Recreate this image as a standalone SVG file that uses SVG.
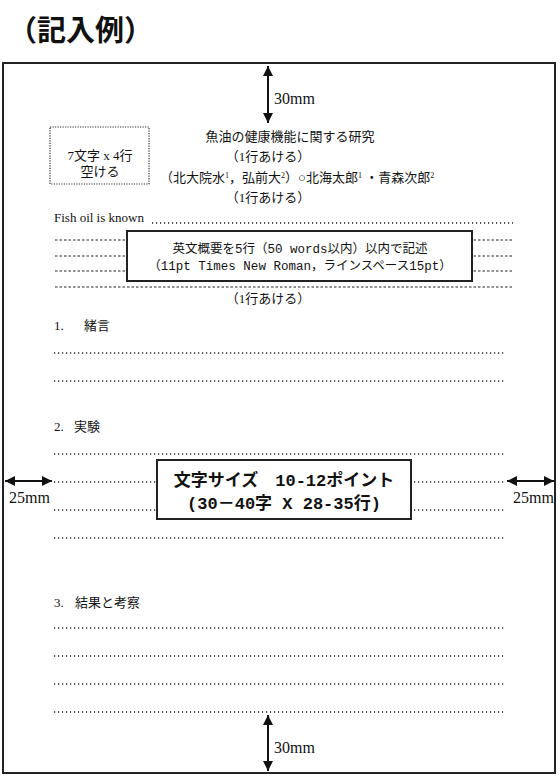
<svg xmlns="http://www.w3.org/2000/svg" width="560" height="780" viewBox="0 0 560 780">
<style>
.t{font-family:"Liberation Serif","Noto Sans CJK JP",serif;font-size:13px;fill:#111}
.n{font-family:"Liberation Serif","Noto Sans CJK JP",serif;font-size:16px;fill:#111}
.m{font-family:"Liberation Mono","Noto Sans CJK JP",monospace;font-size:12.5px;fill:#111}
.b{font-family:"Liberation Mono","Noto Sans CJK JP",monospace;font-size:17px;font-weight:bold;fill:#111}
.dot{stroke:#222;stroke-width:1.3;stroke-dasharray:1.2 2.8;fill:none}
.dash{stroke:#222;stroke-width:1;stroke-dasharray:2.5 2;fill:none}
.box{fill:#fff;stroke:#222;stroke-width:2}
.arr{stroke:#111;stroke-width:2;fill:none}
</style>
<defs>
<marker id="ah" viewBox="0 0 10 10" refX="10" refY="5" markerWidth="5" markerHeight="5" orient="auto-start-reverse"><path d="M0,0 L10,5 L0,10 z" fill="#111"/></marker>
</defs>
<rect width="560" height="780" fill="#fff"/>
<text x="8" y="41" font-family="'Noto Sans CJK JP',sans-serif" font-size="29" font-weight="bold" fill="#111">（記入例）</text>
<g id="frame"><rect x="3" y="63" width="552" height="710" fill="none" stroke="#222" stroke-width="2"/></g>

<g id="connectors">
<line class="arr" x1="268" y1="66" x2="268" y2="123" marker-start="url(#ah)" marker-end="url(#ah)"/>
<line class="arr" x1="268" y1="715" x2="268" y2="771" marker-start="url(#ah)" marker-end="url(#ah)"/>
<line class="arr" x1="5" y1="481" x2="52" y2="481" marker-start="url(#ah)" marker-end="url(#ah)"/>
<line class="arr" x1="507" y1="481" x2="554" y2="481" marker-start="url(#ah)" marker-end="url(#ah)"/>
</g>
<g id="labels">
<text class="n" x="274" y="104">30mm</text>
<text class="n" x="274" y="753">30mm</text>
<text class="n" x="9" y="503" font-size="14.5">25mm</text>
<text class="n" x="513" y="503" font-size="14.5">25mm</text>
</g>

<g id="space-box">
<rect x="50" y="127" width="99" height="57" fill="none" stroke="#333" stroke-width="1.2" stroke-dasharray="1.2 1.3"/>
<text class="t" x="100" y="160" text-anchor="middle">7文字 x 4行</text>
<text class="t" x="100" y="176" text-anchor="middle">空ける</text>
</g>

<g id="header">
<text class="t" x="290" y="141" text-anchor="middle">魚油の健康機能に関する研究</text>
<text class="t" x="268" y="161" text-anchor="middle">（1行あける）</text>
<text class="t" x="160" y="182">（北大院水<tspan font-size="8" dy="-4">1</tspan><tspan dy="4">，弘前大</tspan><tspan font-size="8" dy="-4">2</tspan><tspan dy="4">）○北海太郎</tspan><tspan font-size="8" dy="-4">1</tspan><tspan dy="4"> ・青森次郎</tspan><tspan font-size="8" dy="-4">2</tspan></text>
<text class="t" x="268" y="202" text-anchor="middle">（1行あける）</text>
</g>

<g id="abstract">
<text class="t" x="54" y="222" font-size="14">Fish oil is known</text>
<line class="dot" x1="152" y1="223" x2="513" y2="223"/>
<line class="dash" x1="55" y1="240" x2="513" y2="240"/>
<line class="dash" x1="55" y1="256" x2="513" y2="256"/>
<line class="dash" x1="55" y1="271" x2="513" y2="271"/>
<line class="dash" x1="55" y1="287" x2="513" y2="287"/>
<rect class="box" x="127" y="231" width="345" height="50"/>
<text class="m" x="300" y="253" text-anchor="middle">英文概要を5行（50 words以内）以内で記述</text>
<text class="m" x="300" y="270" text-anchor="middle">（11pt Times New Roman，ラインスペース15pt）</text>
<text class="t" x="268" y="303" text-anchor="middle">（1行あける）</text>
</g>

<g id="sec1">
<text class="t" x="54" y="330">1.</text>
<text class="t" x="84" y="330" font-size="14">緒言</text>
<line class="dot" x1="54" y1="353" x2="506" y2="353"/>
<line class="dot" x1="54" y1="381" x2="506" y2="381"/>
</g>

<g id="sec2">
<text class="t" x="54" y="431">2.</text>
<text class="t" x="74" y="431">実験</text>
<line class="dot" x1="54" y1="454" x2="506" y2="454"/>
<line class="dot" x1="54" y1="482" x2="506" y2="482"/>
<line class="dot" x1="54" y1="510" x2="506" y2="510"/>
<line class="dot" x1="54" y1="538" x2="506" y2="538"/>
</g>

<g id="size-box">
<rect class="box" x="157" y="460" width="254" height="59"/>
<text class="b" x="284" y="486" text-anchor="middle">文字サイズ　10-12ポイント</text>
<text class="b" x="284" y="509" text-anchor="middle">(30－40字 X 28-35行)</text>
</g>

<g id="sec3">
<text class="t" x="54" y="607">3.</text>
<text class="t" x="75" y="607">結果と考察</text>
<line class="dot" x1="54" y1="628" x2="506" y2="628"/>
<line class="dot" x1="54" y1="656" x2="506" y2="656"/>
<line class="dot" x1="54" y1="684" x2="506" y2="684"/>
<line class="dot" x1="54" y1="712" x2="506" y2="712"/>
</g>
</svg>
